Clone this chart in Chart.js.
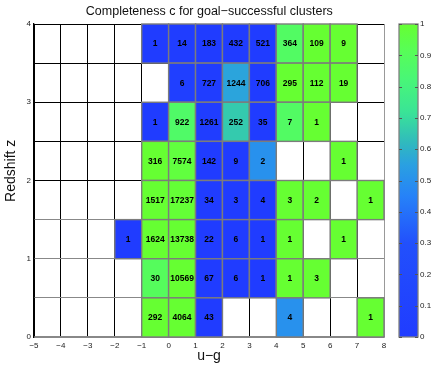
<!DOCTYPE html>
<html>
<head>
<meta charset="utf-8">
<script src="https://cdn.jsdelivr.net/npm/chart.js@4.4.0/dist/chart.umd.min.js"></script>
<style>
  html, body { margin: 0; padding: 0; background: #fff; }
  #wrap { width: 436px; height: 371px; }
</style>
</head>
<body>
<div id="wrap"><canvas id="chart" width="436" height="371"></canvas></div>
<script>
// bins: u-g in steps of 1, redshift in steps of 0.5
const binW = 1;
const binH = 0.5;
const xTicks = [-5, -4, -3, -2, -1, 0, 1, 2, 3, 4, 5, 6, 7, 8];
const yTicks = [0, 1, 2, 3, 4];

// one entry per filled cell (left edge in u-g, bottom edge in z)
const cellX = [
  -1, 0, 1, 2, 3, 4, 5, 6,
  0, 1, 2, 3, 4, 5, 6,
  -1, 0, 1, 2, 3, 4, 5,
  -1, 0, 1, 2, 3, 6,
  -1, 0, 1, 2, 3, 4, 5, 7,
  -2, -1, 0, 1, 2, 3, 4, 6,
  -1, 0, 1, 2, 3, 4, 5,
  -1, 0, 1, 4, 7
];
const cellZ = [
  3.5, 3.5, 3.5, 3.5, 3.5, 3.5, 3.5, 3.5,
  3, 3, 3, 3, 3, 3, 3,
  2.5, 2.5, 2.5, 2.5, 2.5, 2.5, 2.5,
  2, 2, 2, 2, 2, 2,
  1.5, 1.5, 1.5, 1.5, 1.5, 1.5, 1.5, 1.5,
  1, 1, 1, 1, 1, 1, 1, 1,
  0.5, 0.5, 0.5, 0.5, 0.5, 0.5, 0.5,
  0, 0, 0, 0, 0
];
// number of clusters in each cell (printed)
const cellN = [
  1, 14, 183, 432, 521, 364, 109, 9,
  6, 727, 1244, 706, 295, 112, 19,
  1, 922, 1261, 252, 35, 7, 1,
  316, 7574, 142, 9, 2, 1,
  1517, 17237, 34, 3, 4, 3, 2, 1,
  1, 1624, 13738, 22, 6, 1, 1, 1,
  30, 10569, 67, 6, 1, 1, 3,
  292, 4064, 43, 4, 1
];
// completeness c (colour)
const cellC = [
  0, 0.02, 0, 0, 0, 0.88, 1, 1,
  0.05, 0.02, 0.56, 0, 1, 1, 1,
  0, 0.87, 0.02, 0.66, 0, 0.88, 1,
  1, 0.97, 0, 0, 0.5, 1,
  1, 0.99, 0, 0, 0, 1, 1, 1,
  0, 1, 1, 0, 0, 0, 1, 1,
  0.9, 1, 0, 0, 0, 1, 1,
  1, 1, 0, 0.5, 1
];

// colour map, blue -> teal -> green
const cmapPos = [0, 0.3, 0.45, 0.55, 0.62, 0.72, 0.82, 0.92, 1];
const cmapRGB = [
  [32, 60, 255], [34, 80, 252], [38, 130, 248], [42, 160, 225], [48, 185, 190],
  [58, 228, 150], [72, 246, 120], [88, 254, 85], [102, 255, 50]
];

function colormap(v) {
  for (let i = 1; i < cmapPos.length; i++) {
    if (v <= cmapPos[i]) {
      const t = (v - cmapPos[i - 1]) / (cmapPos[i] - cmapPos[i - 1]);
      const a = cmapRGB[i - 1], b = cmapRGB[i];
      return `rgb(${a.map((c, k) => Math.round(c + (b[k] - c) * t)).join(',')})`;
    }
  }
  return `rgb(${cmapRGB[cmapRGB.length - 1].join(',')})`;
}

const FONT = "'Liberation Sans', Arial, sans-serif";
const minus = s => String(s).replace('-', '\u2212');

// draws the cells and the colour bar through the chart scales
const heatmap = {
  id: 'heatmap',
  beforeDatasetsDraw(chart) {
    const { ctx, chartArea, scales: { x, y, cb } } = chart;
    ctx.save();
    cellX.forEach((x0, i) => {
      const l = x.getPixelForValue(x0);
      const r = x.getPixelForValue(x0 + binW);
      const t = y.getPixelForValue(cellZ[i] + binH);
      const b = y.getPixelForValue(cellZ[i]);
      ctx.fillStyle = colormap(cellC[i]);
      ctx.fillRect(l, t, r - l, b - t);
      ctx.strokeStyle = '#7c7c7c';
      ctx.lineWidth = 1.4;
      ctx.strokeRect(l, t, r - l, b - t);
      ctx.fillStyle = '#000';
      ctx.font = `bold 8.5px ${FONT}`;
      ctx.textAlign = 'center';
      ctx.textBaseline = 'middle';
      ctx.fillText(String(cellN[i]), (l + r) / 2, (t + b) / 2 + 0.5);
    });

    // colour bar
    const cbL = chartArea.right + 15;
    const cbW = 19;
    const cbTop = cb.getPixelForValue(1);
    const cbBot = cb.getPixelForValue(0);
    const grad = ctx.createLinearGradient(0, cbBot, 0, cbTop);
    cmapPos.forEach((p, i) => grad.addColorStop(p, `rgb(${cmapRGB[i].join(',')})`));
    ctx.fillStyle = grad;
    ctx.fillRect(cbL, cbTop, cbW, cbBot - cbTop);
    ctx.strokeStyle = '#808080';
    ctx.lineWidth = 1.3;
    ctx.strokeRect(cbL, cbTop, cbW, cbBot - cbTop);
    ctx.strokeStyle = '#555';
    ctx.lineWidth = 1;
    cb.ticks.forEach(tk => {
      const py = Math.round(cb.getPixelForValue(tk.value)) + 0.5;
      ctx.beginPath();
      ctx.moveTo(cbL, py); ctx.lineTo(cbL + 3, py);
      ctx.moveTo(cbL + cbW - 3, py); ctx.lineTo(cbL + cbW, py);
      ctx.stroke();
    });
    ctx.restore();
  }
};

new Chart(document.getElementById('chart'), {
  type: 'scatter',
  data: { datasets: [] },
  options: {
    responsive: false,
    animation: false,
    layout: { padding: 0 },
    plugins: {
      legend: { display: false },
      tooltip: { enabled: false },
      title: {
        display: true,
        // trailing spaces centre the text over the plot rather than the canvas
        text: 'Completeness c for goal\u2212successful clusters     ',
        color: '#111',
        font: { family: FONT, size: 12.5, weight: 'normal' },
        padding: { top: 4, bottom: 5 }
      }
    },
    scales: {
      x: {
        type: 'linear',
        min: xTicks[0],
        max: xTicks[xTicks.length - 1],
        afterFit: s => { s.height = 34; },
        afterBuildTicks: s => { s.ticks = xTicks.map(v => ({ value: v })); },
        ticks: {
          autoSkip: false, maxRotation: 0, padding: 4, color: '#222',
          font: { family: FONT, size: 8 },
          callback: v => minus(v)
        },
        grid: {
          drawTicks: false, lineWidth: 1,
          color: c => (c.tick && c.tick.value === 8 ? '#999' : '#000')
        },
        border: { color: '#888', width: 1.5 },
        title: {
          display: true, text: 'u\u2212g', color: '#111',
          font: { family: FONT, size: 14 },
          padding: { top: 0, bottom: 6 }
        }
      },
      y: {
        type: 'linear',
        position: 'left',
        min: 0,
        max: 4,
        afterFit: s => { s.width = 34; },
        ticks: {
          stepSize: binH, autoSkip: false, padding: 3, color: '#222',
          font: { family: FONT, size: 8 },
          callback: v => (yTicks.includes(v) ? v : '')
        },
        grid: {
          drawTicks: false, lineWidth: 1,
          color: c => (c.tick && c.tick.value < 2 ? '#888' : '#000')
        },
        border: { color: '#000', width: 1.3 },
        title: {
          display: true, text: '     Redshift z', color: '#111',
          font: { family: FONT, size: 14 },
          padding: { top: 3, bottom: 0 }
        }
      },
      cb: {
        type: 'linear',
        position: 'right',
        min: 0,
        max: 1,
        afterFit: s => {
          s.width = 52;
          // label offset must not push the plot area down
          s.paddingTop = 4;
          s.paddingBottom = 4;
        },
        ticks: {
          stepSize: 0.1, autoSkip: false, padding: 36, color: '#222',
          font: { family: FONT, size: 8 },
          callback: v => String(Math.round(v * 10) / 10)
        },
        grid: { display: false, drawTicks: false },
        border: { display: false }
      }
    }
  },
  plugins: [heatmap]
});
</script>
</body>
</html>
